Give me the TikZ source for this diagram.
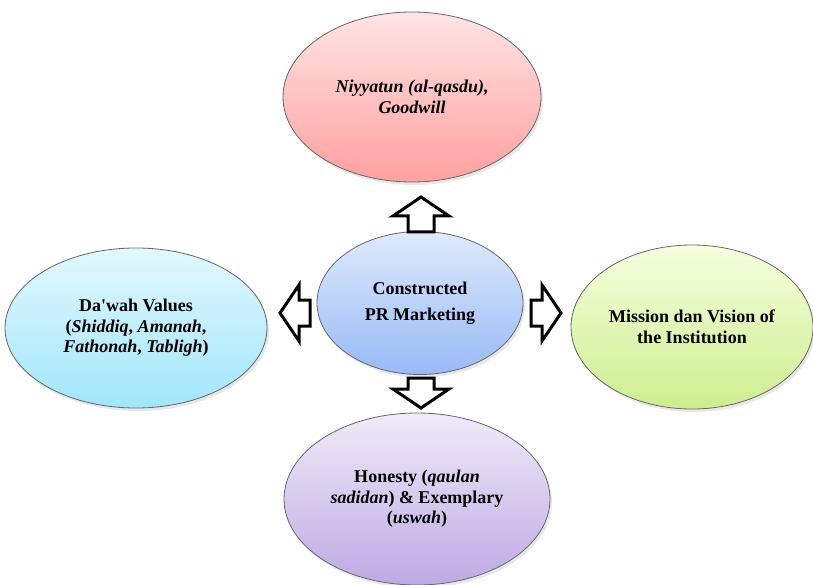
\documentclass[tikz,border=0pt]{standalone}
\usepackage{fontspec}
\setmainfont{Liberation Serif}
\usetikzlibrary{shapes.geometric,shadows}

\definecolor{pinktop}{RGB}{255,228,228}
\definecolor{pinkbot}{RGB}{255,160,160}
\definecolor{bluetop}{RGB}{222,234,252}
\definecolor{bluebot}{RGB}{152,186,245}
\definecolor{cyantop}{RGB}{226,248,255}
\definecolor{cyanbot}{RGB}{160,230,250}
\definecolor{greentop}{RGB}{246,255,222}
\definecolor{greenbot}{RGB}{205,238,142}
\definecolor{lilactop}{RGB}{240,234,248}
\definecolor{lilacbot}{RGB}{190,170,228}

\tikzset{pics/blockarrow/.style={code={
  \draw[line width=3pt,fill=white,line join=miter]
    (0,0) -- (28,19) -- (13,19) -- (13,#1) -- (-13,#1) -- (-13,19) -- (-28,19) -- cycle;}}}

\begin{document}
\begin{tikzpicture}[x=1pt,y=-1pt,
  bubble/.style={ellipse,draw=black!60,line width=0.8pt,inner sep=0pt,align=center,
    font=\fontsize{18}{20.5}\selectfont\bfseries,
    drop shadow={opacity=0.18,shadow xshift=2pt,shadow yshift=-3pt}}]
  \useasboundingbox (0,0) rectangle (813,585);

  \node[bubble,minimum width=258pt,minimum height=170pt,top color=pinktop,bottom color=pinkbot]
    (niyyat) at (412,97) {\textit{Niyyatun (al-qasdu),}\\\textit{Goodwill}};
  \node[bubble,minimum width=206pt,minimum height=143pt,top color=bluetop,bottom color=bluebot]
    (core) at (420,303) {Constructed\\[6pt]PR Marketing};
  \node[bubble,minimum width=262pt,minimum height=160pt,top color=cyantop,bottom color=cyanbot]
    (dawah) at (136,328) {Da\textquotesingle wah Values\\(\textit{Shiddiq}, \textit{Amanah},\\\textit{Fathonah}, \textit{Tabligh})};
  \node[bubble,minimum width=242pt,minimum height=164pt,top color=greentop,bottom color=greenbot]
    (mission) at (692,327) {Mission dan Vision of\\the Institution};
  \node[bubble,minimum width=266pt,minimum height=172pt,top color=lilactop,bottom color=lilacbot]
    (honesty) at (417,499) {Honesty (\textit{qaulan}\\\textit{sadidan}) \& Exemplary\\(\textit{uswah})};

  \pic at (421,197) {blockarrow=35};
  \pic[rotate=180] at (421,408) {blockarrow=30};
  \pic[rotate=90] at (280,313) {blockarrow=30};
  \pic[rotate=-90] at (561,313) {blockarrow=30};
\end{tikzpicture}
\end{document}
